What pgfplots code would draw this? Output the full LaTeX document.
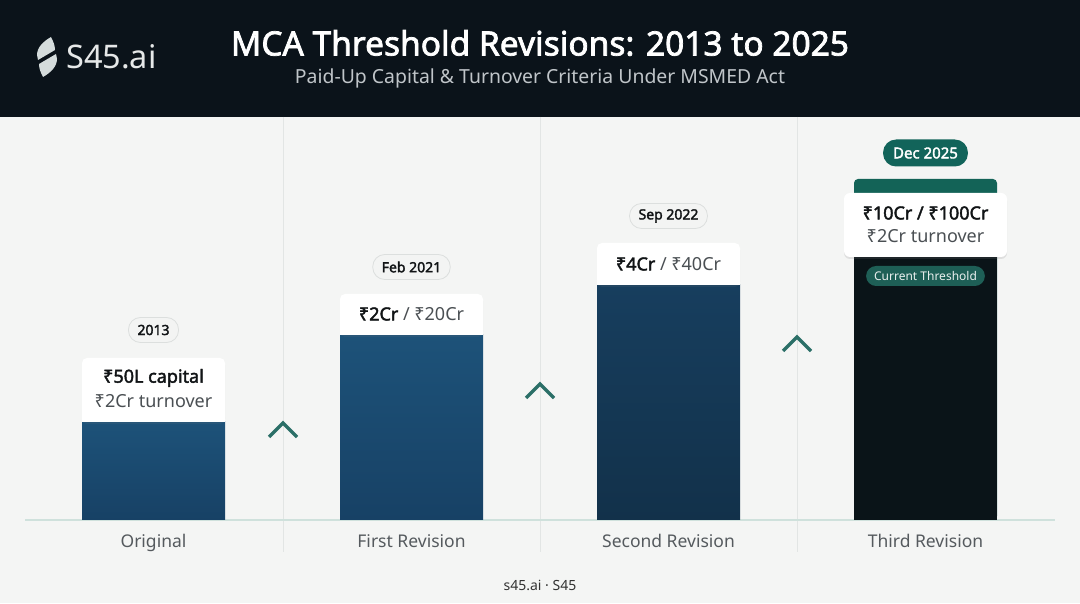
\documentclass[border=0pt]{standalone}
\usepackage{fontspec}
\setmainfont{Noto Sans}[AutoFakeBold=2.2]
\usepackage{pgfplots}
\pgfplotsset{compat=1.18}
\usetikzlibrary{shadows}
\definecolor{hdr}{HTML}{0B131A}
\definecolor{body}{HTML}{F4F5F4}
\definecolor{sep}{HTML}{E2E5E4}
\definecolor{base}{HTML}{CFE1DC}
\definecolor{barAt}{HTML}{1D5279}
\definecolor{barAb}{HTML}{174165}
\definecolor{barBt}{HTML}{173E5E}
\definecolor{barBb}{HTML}{12314A}
\definecolor{darkbar}{HTML}{0A1418}
\definecolor{greencap}{HTML}{136357}
\definecolor{chev}{HTML}{2B6F67}
\definecolor{pillb}{HTML}{DCDFDE}
\definecolor{pillf}{HTML}{F3F4F3}
\definecolor{decpill}{HTML}{12645A}
\definecolor{curpill}{HTML}{1E5F56}
\definecolor{cattxt}{HTML}{555A5E}
\definecolor{subtxt}{HTML}{C0C5C9}
\definecolor{logotxt}{HTML}{E6E8E8}
\definecolor{logoicon}{HTML}{D5DCDC}
\definecolor{cardgray}{HTML}{4A4F53}
\definecolor{cardblack}{HTML}{111416}
\begin{document}
\begin{tikzpicture}
\begin{axis}[
  set layers, scale only axis, width=1080pt, height=603pt,
  xmin=0, xmax=1080, ymin=-83, ymax=520,
  axis lines=none, clip=false,
]
\begin{pgfonlayer}{axis background}
  \fill[body] (axis cs:0,-83) rectangle (axis cs:1080,403);
  \fill[hdr] (axis cs:0,403) rectangle (axis cs:1080,520);
  \draw[sep, line width=1pt] (axis cs:283,403) -- (axis cs:283,-32);
  \draw[sep, line width=1pt] (axis cs:540,403) -- (axis cs:540,-32);
  \draw[sep, line width=1pt] (axis cs:797,403) -- (axis cs:797,-32);
  \draw[base, line width=1.6pt] (axis cs:25,0) -- (axis cs:1055,0);
\end{pgfonlayer}

% bars (pixel-based heights above baseline)
\addplot[ybar, bar shift=0pt, bar width=143, draw=none, top color=barAt, bottom color=barAb] coordinates {(153.5,98)};
\addplot[ybar, bar shift=0pt, bar width=143, draw=none, top color=barAt, bottom color=barAb] coordinates {(411.5,185)};
\addplot[ybar, bar shift=0pt, bar width=143, draw=none, top color=barBt, bottom color=barBb] coordinates {(668.5,235)};
\addplot[ybar, bar shift=0pt, bar width=143, draw=none, fill=greencap, rounded corners=4pt] coordinates {(925.5,341)};
\addplot[ybar, bar shift=0pt, bar width=143, draw=none, fill=darkbar] coordinates {(925.5,320)};

\begin{pgfonlayer}{axis foreground}
  % header
  \fill[logoicon] (axis cs:51,483) .. controls (axis cs:44,479) and (axis cs:37,473) .. (axis cs:37,465) -- (axis cs:38,460) -- (axis cs:55,470) .. controls (axis cs:55,475) and (axis cs:53,479) .. (axis cs:51,483) -- cycle;
  \fill[logoicon] (axis cs:43,443) .. controls (axis cs:50,447) and (axis cs:57,453) .. (axis cs:57,461) -- (axis cs:56,466) -- (axis cs:39,456) .. controls (axis cs:39,451) and (axis cs:41,447) .. (axis cs:43,443) -- cycle;
  \node[anchor=base west, inner sep=0pt, text=logotxt, font=\fontsize{32.5}{38}\selectfont] at (axis cs:66,451) {S45.ai};
  \node[text=white, font=\fontsize{33.5}{40}\selectfont\bfseries] at (axis cs:540,477) {MCA Threshold Revisions: 2013 to 2025};
  \node[text=subtxt, font=\fontsize{19.4}{22}\selectfont] at (axis cs:540,442) {Paid-Up Capital \& Turnover Criteria Under MSMED Act};

  % chevrons
  \draw[chev, line width=3.5pt] (axis cs:269,83) -- (axis cs:283,97) -- (axis cs:297,83);
  \draw[chev, line width=3.5pt] (axis cs:526,122) -- (axis cs:540,136) -- (axis cs:554,122);
  \draw[chev, line width=3.5pt] (axis cs:783,169) -- (axis cs:797,183) -- (axis cs:811,169);

  % cards
  \fill[white, rounded corners=5pt, drop shadow={opacity=0.12, shadow xshift=0pt, shadow yshift=-2pt}] (axis cs:82,98) rectangle (axis cs:225,162);
  \fill[white] (axis cs:82,98) rectangle (axis cs:225,110);
  \node[text=cardblack, font=\fontsize{18}{21}\selectfont\bfseries] at (axis cs:153.5,142) {₹50L capital};
  \node[text=cardgray, font=\fontsize{18}{21}\selectfont] at (axis cs:153.5,119) {₹2Cr turnover};

  \fill[white, rounded corners=5pt, drop shadow={opacity=0.12, shadow xshift=0pt, shadow yshift=-2pt}] (axis cs:340,185) rectangle (axis cs:483,226);
  \fill[white] (axis cs:340,185) rectangle (axis cs:483,197);
  \node[font=\fontsize{18}{21}\selectfont] at (axis cs:411.5,206) {\textcolor{cardblack}{\bfseries ₹2Cr} \textcolor{cardgray}{/ ₹20Cr}};

  \fill[white, rounded corners=5pt, drop shadow={opacity=0.12, shadow xshift=0pt, shadow yshift=-2pt}] (axis cs:597,235) rectangle (axis cs:740,277);
  \fill[white] (axis cs:597,235) rectangle (axis cs:740,247);
  \node[font=\fontsize{18}{21}\selectfont] at (axis cs:668.5,256) {\textcolor{cardblack}{\bfseries ₹4Cr} \textcolor{cardgray}{/ ₹40Cr}};

  \fill[white, rounded corners=6pt, drop shadow={opacity=0.18, shadow xshift=0pt, shadow yshift=-2pt}] (axis cs:844,263) rectangle (axis cs:1007,327);
  \node[text=cardblack, font=\fontsize{18}{21}\selectfont\bfseries] at (axis cs:925.5,307) {₹10Cr / ₹100Cr};
  \node[text=cardgray, font=\fontsize{18}{21}\selectfont] at (axis cs:925.5,284) {₹2Cr turnover};

  % year pills
  \node[fill=pillf, draw=pillb, line width=0.8pt, rounded corners=12pt, minimum height=25pt, inner xsep=9pt, text=cardblack, font=\fontsize{14}{16}\selectfont\bfseries] at (axis cs:153.5,190) {2013};
  \node[fill=pillf, draw=pillb, line width=0.8pt, rounded corners=12pt, minimum height=25pt, inner xsep=9pt, text=cardblack, font=\fontsize{14}{16}\selectfont\bfseries] at (axis cs:411.5,253) {Feb 2021};
  \node[fill=pillf, draw=pillb, line width=0.8pt, rounded corners=12pt, minimum height=25pt, inner xsep=9pt, text=cardblack, font=\fontsize{14}{16}\selectfont\bfseries] at (axis cs:668.5,304) {Sep 2022};
  \node[fill=decpill, rounded corners=13pt, minimum height=27pt, inner xsep=10pt, text=white, font=\fontsize{15}{17}\selectfont\bfseries] at (axis cs:925.5,367) {Dec 2025};
  \node[fill=curpill, rounded corners=10pt, minimum height=20pt, inner xsep=8pt, text=white!90!curpill, font=\fontsize{12}{14}\selectfont] at (axis cs:925.5,244) {Current Threshold};

  % category labels
  \node[anchor=base, text=cattxt, font=\fontsize{17.5}{20}\selectfont] at (axis cs:153.5,-27) {Original};
  \node[anchor=base, text=cattxt, font=\fontsize{17.5}{20}\selectfont] at (axis cs:411.5,-27) {First Revision};
  \node[anchor=base, text=cattxt, font=\fontsize{17.5}{20}\selectfont] at (axis cs:668.5,-27) {Second Revision};
  \node[anchor=base, text=cattxt, font=\fontsize{17.5}{20}\selectfont] at (axis cs:925.5,-27) {Third Revision};

  \node[text=black!80, font=\fontsize{14}{16}\selectfont] at (axis cs:540,-65) {s45.ai · S45};
\end{pgfonlayer}
\end{axis}
\end{tikzpicture}
\end{document}
